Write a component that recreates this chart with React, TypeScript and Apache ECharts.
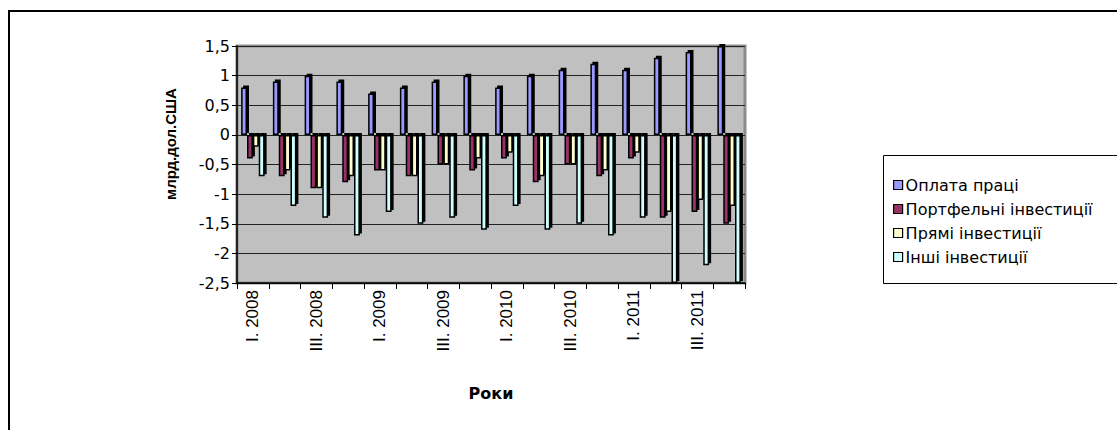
import React, { useEffect, useRef } from "react";
import * as echarts from "echarts";

// Quarters 2008–2011
const quarters = [
  "I. 2008", "II. 2008", "III. 2008", "IV. 2008",
  "I. 2009", "II. 2009", "III. 2009", "IV. 2009",
  "I. 2010", "II. 2010", "III. 2010", "IV. 2010",
  "I. 2011", "II. 2011", "III. 2011", "IV. 2011",
];

const seriesNames = [
  "Оплата праці",
  "Портфельні інвестиції",
  "Прямі інвестиції",
  "Інші інвестиції",
];

// млрд. дол. США
const wages = [0.8, 0.9, 1.0, 0.9, 0.7, 0.8, 0.9, 1.0, 0.8, 1.0, 1.1, 1.2, 1.1, 1.3, 1.4, 1.5];
const portfolio = [-0.4, -0.7, -0.9, -0.8, -0.6, -0.7, -0.5, -0.6, -0.4, -0.8, -0.5, -0.7, -0.4, -1.4, -1.3, -1.5];
const direct = [-0.2, -0.6, -0.9, -0.7, -0.6, -0.7, -0.5, -0.4, -0.3, -0.7, -0.5, -0.6, -0.3, -1.3, -1.1, -1.2];
const other = [-0.7, -1.2, -1.4, -1.7, -1.3, -1.5, -1.4, -1.6, -1.2, -1.6, -1.5, -1.7, -1.4, -2.5, -2.2, -2.5];

const colors = ["#9999FF", "#993366", "#FFFFCC", "#CCFFFF"];

const FONT = "'Liberation Sans', Arial, sans-serif";
const WIDE = "'DejaVu Sans', 'Liberation Sans', sans-serif";

export default function App() {
  const ref = useRef<HTMLDivElement>(null);

  useEffect(() => {
    if (!ref.current) return;
    const chart = echarts.init(ref.current, null, { renderer: "svg" });
    const values = [wages, portfolio, direct, other];

    chart.setOption({
      animation: false,
      backgroundColor: "#FFFFFF",
      textStyle: { fontFamily: FONT },
      grid: { left: 237, top: 46, width: 508, height: 237, show: true, backgroundColor: "#C0C0C0", borderColor: "#8C8C8C", borderWidth: 3 },
      legend: {
        orient: "vertical",
        left: 888,
        top: 172,
        itemWidth: 9,
        itemHeight: 9,
        itemGap: 8,
        icon: "rect",
        textStyle: { fontFamily: WIDE, fontSize: 16, color: "#000", padding: [0, 0, 0, -2] },
        itemStyle: { borderColor: "#000", borderWidth: 1.2, shadowBlur: 0, shadowOffsetX: 0, shadowOffsetY: 0, shadowColor: "rgba(0,0,0,0)" },
        data: seriesNames,
      },
      xAxis: {
        type: "category",
        data: quarters,
        position: "bottom",
        name: "Роки",
        nameLocation: "middle",
        nameGap: 102,
        nameTextStyle: { fontFamily: WIDE, fontSize: 16, fontWeight: "bold", color: "#000" },
        axisLine: { onZero: false, lineStyle: { color: "#000", width: 1.5 } },
        axisTick: { show: true, interval: 0, length: 6, inside: false, lineStyle: { color: "#000" } },
        axisLabel: { interval: 1, rotate: 90, margin: 7, fontFamily: FONT, fontSize: 17, color: "#000" },
        splitLine: { show: false },
      },
      yAxis: {
        type: "value",
        min: -2.5,
        max: 1.5,
        interval: 0.5,
        axisLine: { show: true, lineStyle: { color: "#000", width: 1.5 } },
        axisTick: { show: true, length: 5, lineStyle: { color: "#000" } },
        axisLabel: {
          fontFamily: WIDE,
          fontSize: 16,
          color: "#000",
          margin: 7,
          formatter: (v: number) => String(v).replace(".", ","),
        },
        splitLine: { show: true, lineStyle: { color: "#222", width: 1 } },
      },
      graphic: [
        {
          type: "rect",
          shape: { x: 9, y: 11, width: 1130, height: 440 },
          style: { fill: "none", stroke: "#000", lineWidth: 2 },
          silent: true,
          z: 100,
        },
        {
          type: "rect",
          shape: { x: 883.5, y: 155.5, width: 260, height: 128 },
          style: { fill: "none", stroke: "#000", lineWidth: 1 },
          silent: true,
          z: 100,
        },
        {
          type: "text",
          x: 170,
          y: 144,
          rotation: Math.PI / 2,
          style: {
            text: "млрд.дол.США",
            fontFamily: FONT,
            fontSize: 15,
            fontWeight: "bold",
            fill: "#000",
            align: "center",
            verticalAlign: "middle",
          },
          silent: true,
        },
      ],
      series: seriesNames.map((name, i) => ({
        type: "bar",
        name,
        data: values[i],
        barGap: "0%",
        barCategoryGap: "26%",
        itemStyle: {
          color: colors[i],
          borderColor: "#000",
          borderWidth: 1.5,
          shadowColor: "#000",
          shadowBlur: 0,
          shadowOffsetX: 2,
          shadowOffsetY: -2,
        },
      })),
    });

    return () => chart.dispose();
  }, []);

  return (
    <div
      ref={ref}
      style={{ position: "fixed", left: 0, top: 0, width: 1117, height: 430 }}
    />
  );
}
